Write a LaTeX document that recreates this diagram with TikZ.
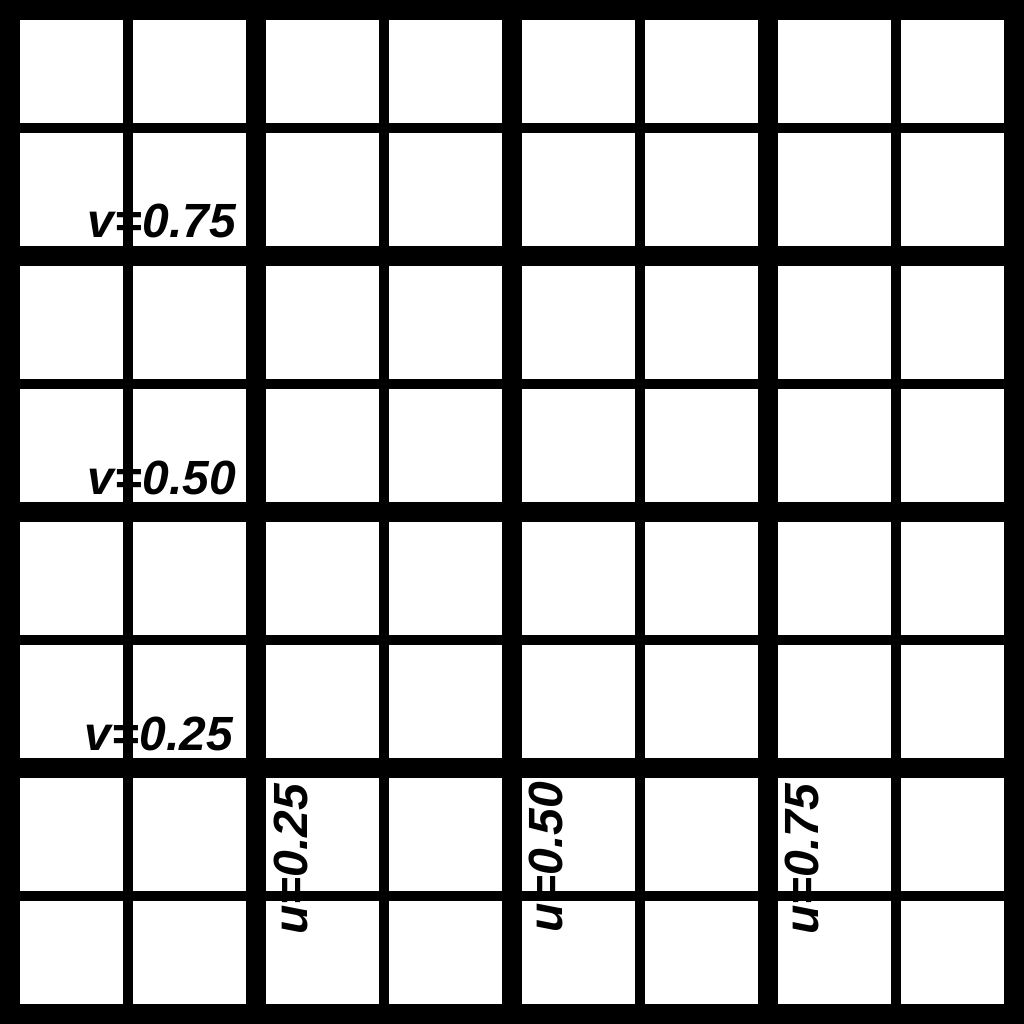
\documentclass[tikz,border=0pt]{standalone}
\usepackage{fontspec}
\setmainfont{Liberation Sans}
\begin{document}
\begin{tikzpicture}[x=1pt,y=1pt,
  lbl/.style={inner sep=0pt, font=\fontsize{48}{48}\selectfont\bfseries\itshape, text=black},
  cell/.style={fill=white, draw=none}]
\useasboundingbox (0,0) rectangle (1024,1024);
\fill[black] (0,0) rectangle (1024,1024);
\foreach \a/\b in {20/123,133/246,266/379,389/502,522/635,645/758,778/891,901/1004}{
  \foreach \c/\d in {20/123,133/246,266/379,389/502,522/635,645/758,778/891,901/1004}{
    \path[cell] (\a,1024-\d) rectangle (\b,1024-\c);
  }
}
\node[lbl, anchor=base east] (v75) at (236,1024-238) {v=0.75};
\node[lbl, anchor=base east] (v50) at (236,1024-495) {v=0.50};
\node[lbl, anchor=base east] (v25) at (233,1024-751) {v=0.25};
\node[lbl, rotate=90, anchor=base west] (u25) at (307,1024-935) {u=0.25};
\node[lbl, rotate=90, anchor=base west] (u50) at (562,1024-933) {u=0.50};
\node[lbl, rotate=90, anchor=base west] (u75) at (818,1024-935) {u=0.75};
\end{tikzpicture}
\end{document}
